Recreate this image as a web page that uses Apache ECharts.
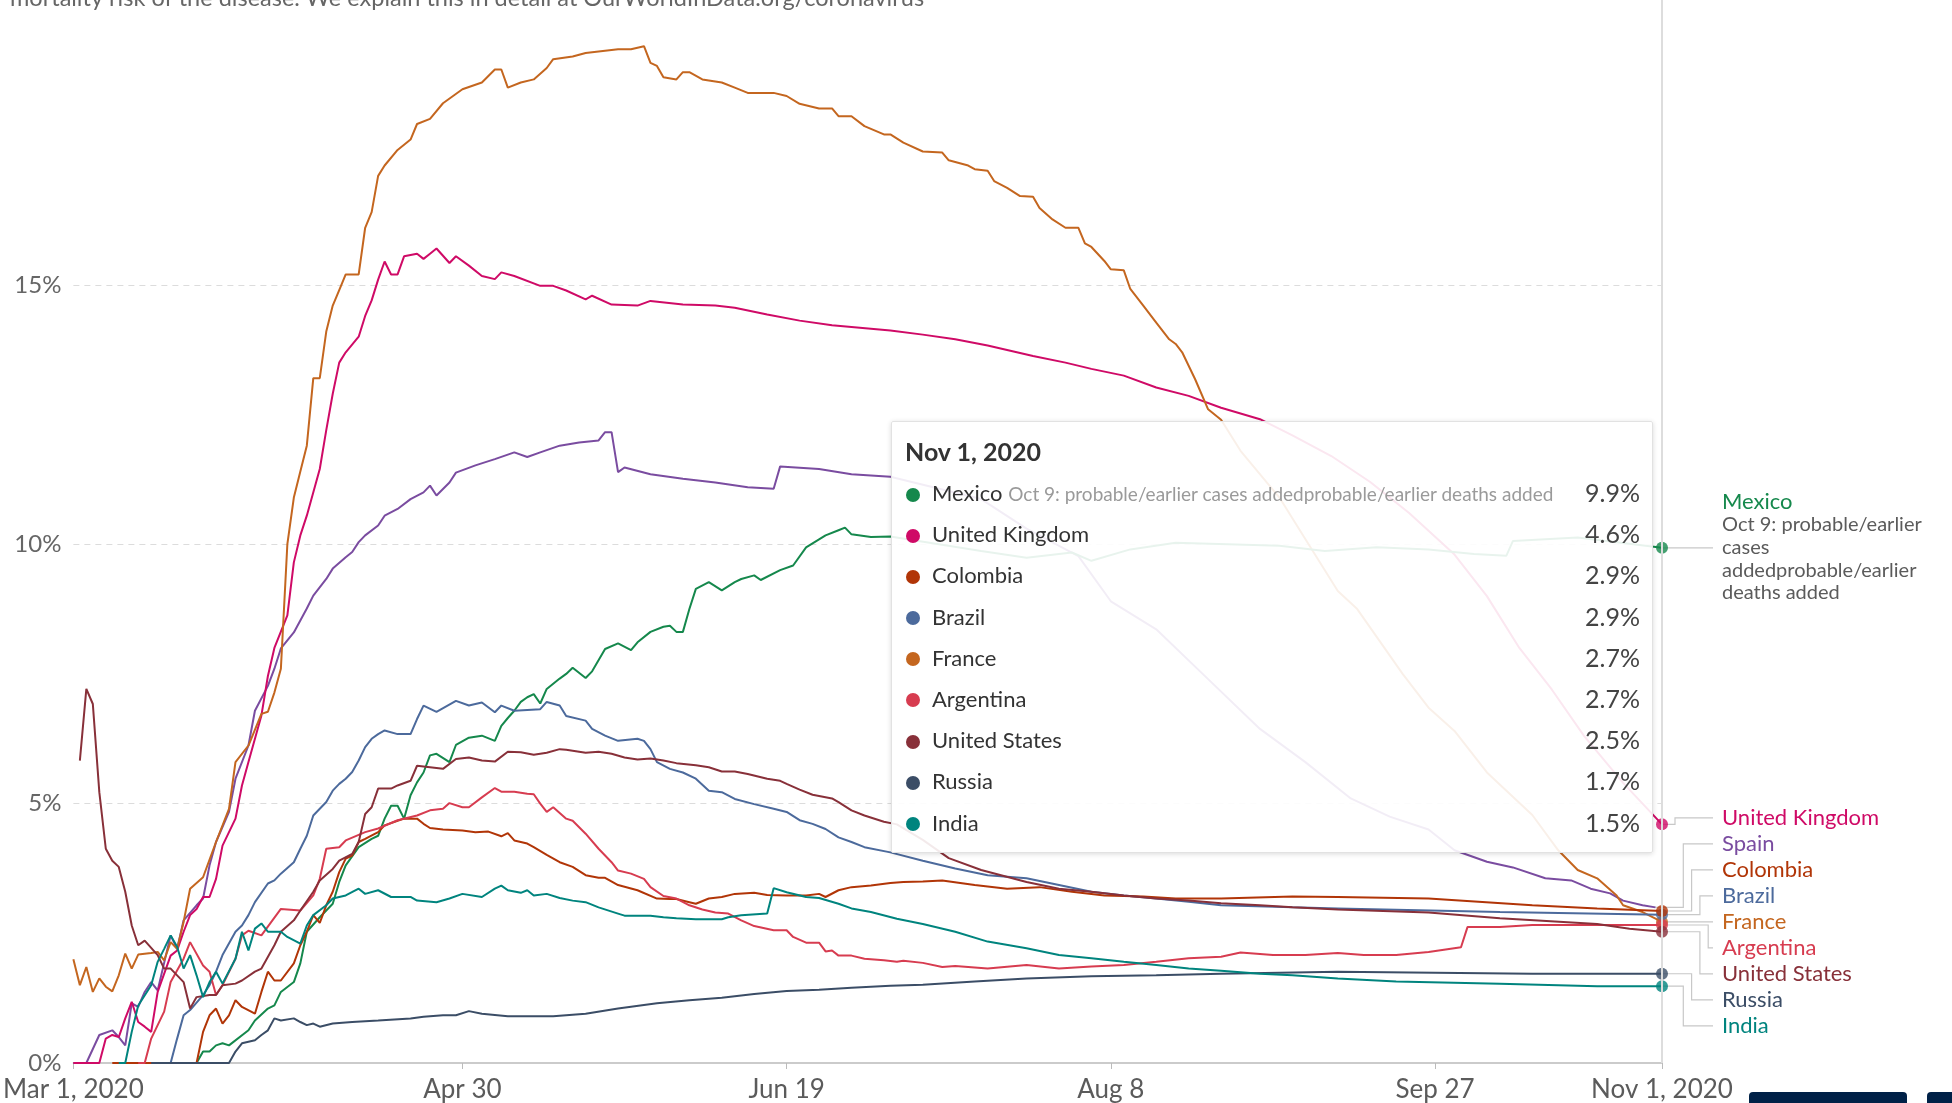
<!DOCTYPE html>
<html>
<head>
<meta charset="utf-8">
<script src="https://cdn.jsdelivr.net/npm/echarts@6/dist/echarts.min.js"></script>
<style>
html, body { margin: 0; padding: 0; background: #fff; }
#main { width: 1952px; height: 1103px; }
</style>
</head>
<body>
<div id="main"></div>
<script>
// x = days since Mar 1, 2020 ; y = case fatality rate (%)
var spain = [[0,0],[2,0],[4,0.54],[6,0.63],[7,0.5],[8,0.34],[9,1.15],[10,1.08],[11,1.37],[12,1.56],[13,1.4],[15,2.46],[16,2.2],[17,2.75],[19,3.04],[20,3.17],[21,3.81],[22,4.26],[24,4.84],[25,5.48],[27,6.12],[28,6.79],[30,7.27],[31,7.6],[32,7.99],[34,8.3],[36,8.76],[37,9.01],[39,9.33],[40,9.53],[42,9.75],[43,9.85],[44,10.04],[45,10.17],[47,10.36],[48,10.55],[50,10.68],[52,10.87],[54,11.0],[55,11.13],[56,10.94],[58,11.19],[59,11.38],[62,11.52],[65,11.64],[68,11.77],[70,11.68],[72,11.77],[75,11.9],[78,11.96],[81,12.0],[82,12.16],[83,12.16],[84,11.39],[85,11.48],[89,11.35],[94,11.26],[99,11.19],[104,11.1],[108,11.07],[109,11.5],[115,11.45],[120,11.35],[126,11.3],[140,10.87],[147,10.3],[155,9.77],[160,8.9],[167,8.36],[175,7.4],[183,6.44],[190,5.8],[197,5.1],[203,4.75],[209,4.5],[213,4.1],[218,3.88],[222,3.77],[227,3.56],[231,3.52],[234,3.36],[237,3.27],[239,3.13],[242,3.04],[244,3.0]];

var uk = [[0,0],[4,0],[5,0.47],[6,0.54],[7,0.5],[8,0.86],[9,1.18],[10,0.79],[11,0.7],[12,0.6],[13,1.37],[15,2.07],[16,2.17],[17,2.53],[18,2.85],[19,2.97],[20,3.2],[21,3.2],[22,3.55],[23,4.19],[25,4.71],[26,5.35],[27,5.8],[28,6.25],[29,6.7],[30,7.46],[31,8.0],[33,8.63],[34,9.65],[35,10.17],[36,10.55],[38,11.45],[39,12.2],[40,12.9],[41,13.5],[42,13.7],[44,14.0],[45,14.4],[46,14.7],[47,15.1],[48,15.45],[49,15.2],[50,15.2],[51,15.55],[53,15.6],[54,15.5],[55,15.6],[56,15.7],[58,15.42],[59,15.55],[61,15.37],[63,15.17],[65,15.11],[66,15.24],[68,15.17],[72,14.98],[74,14.98],[76,14.89],[79,14.72],[80,14.79],[83,14.62],[87,14.6],[89,14.69],[94,14.62],[99,14.6],[102,14.56],[107,14.43],[112,14.31],[117,14.22],[126,14.12],[131,14.04],[136,13.95],[141,13.83],[148,13.63],[153,13.5],[157,13.38],[162,13.25],[167,13.02],[172,12.86],[177,12.63],[183,12.41],[188,12.1],[194,11.7],[200,11.2],[206,10.6],[213,9.8],[218,9.0],[223,8.0],[228,7.2],[233,6.3],[239,5.4],[245,4.6]];

var france = [[0,2.0],[1,1.5],[2,1.85],[3,1.37],[4,1.63],[5,1.47],[6,1.38],[7,1.69],[8,2.11],[9,1.82],[10,2.09],[12,2.12],[13,2.14],[14,1.98],[15,2.33],[16,2.2],[17,2.72],[18,3.36],[20,3.58],[22,4.26],[24,4.9],[25,5.8],[27,6.12],[29,6.73],[30,6.77],[31,7.14],[32,7.6],[33,10.0],[34,10.9],[35,11.4],[36,11.9],[37,13.2],[38,13.2],[39,14.1],[40,14.6],[41,14.9],[42,15.2],[44,15.2],[45,16.1],[46,16.4],[47,17.1],[48,17.3],[50,17.6],[52,17.8],[53,18.1],[55,18.2],[57,18.5],[60,18.77],[63,18.9],[65,19.15],[66,19.15],[67,18.8],[69,18.9],[71,18.96],[73,19.18],[74,19.35],[77,19.4],[79,19.47],[84,19.54],[86,19.54],[88,19.6],[89,19.28],[90,19.22],[91,19.0],[93,18.96],[94,19.1],[95,19.1],[97,18.96],[100,18.9],[102,18.8],[104,18.7],[108,18.7],[110,18.64],[112,18.49],[115,18.4],[117,18.4],[118,18.25],[120,18.25],[122,18.06],[125,17.9],[126,17.9],[128,17.74],[131,17.57],[134,17.55],[135,17.4],[138,17.3],[139,17.23],[141,17.2],[142,17.0],[144,16.87],[146,16.71],[148,16.7],[149,16.48],[151,16.26],[153,16.1],[155,16.1],[156,15.8],[157,15.73],[159,15.46],[160,15.3],[162,15.28],[163,14.92],[165,14.6],[167,14.27],[169,13.95],[170,13.86],[171,13.7],[173,13.18],[175,12.6],[177,12.4],[180,11.8],[186,10.9],[191,9.9],[195,9.1],[198,8.75],[205,7.5],[209,6.85],[213,6.4],[218,5.6],[225,4.78],[229,4.1],[232,3.72],[235,3.56],[238,3.23],[239,3.04],[242,2.91],[245,2.72]];

var mexico = [[10,0],[19,0],[20,0.22],[21,0.22],[22,0.34],[23,0.38],[24,0.34],[27,0.63],[28,0.82],[30,1.05],[31,1.11],[32,1.37],[34,1.56],[35,1.92],[36,2.53],[38,2.81],[40,3.07],[41,3.49],[42,3.81],[44,4.16],[46,4.32],[47,4.38],[48,4.71],[49,4.96],[50,4.96],[51,4.71],[52,5.16],[53,5.41],[54,5.6],[55,5.93],[56,5.96],[58,5.8],[59,6.13],[61,6.27],[63,6.31],[65,6.21],[66,6.5],[67,6.65],[68,6.79],[69,6.96],[70,7.05],[71,7.11],[72,6.93],[73,7.21],[75,7.41],[76,7.5],[77,7.62],[79,7.42],[80,7.55],[82,7.98],[84,8.09],[86,7.96],[87,8.11],[89,8.31],[91,8.41],[92,8.43],[93,8.31],[94,8.31],[95,8.75],[96,9.14],[98,9.27],[100,9.11],[102,9.27],[103,9.33],[105,9.4],[106,9.31],[109,9.5],[111,9.59],[113,9.94],[116,10.17],[118,10.27],[119,10.32],[120,10.19],[123,10.14],[126,10.15],[140,9.87],[147,9.74],[154,9.84],[157,9.68],[163,9.9],[170,10.03],[186,9.97],[193,9.87],[201,9.94],[209,9.9],[216,9.81],[221,9.78],[222,10.06],[232,10.13],[245,9.93]];

var brazil = [[8,0],[15,0],[16,0.47],[17,0.92],[18,1.02],[20,1.31],[21,1.5],[22,1.76],[23,2.08],[25,2.53],[26,2.65],[27,2.85],[28,3.1],[30,3.46],[31,3.52],[32,3.65],[34,3.87],[35,4.13],[36,4.38],[37,4.77],[39,5.03],[40,5.25],[41,5.38],[42,5.48],[43,5.61],[44,5.83],[45,6.09],[46,6.25],[47,6.34],[48,6.41],[50,6.34],[52,6.34],[53,6.63],[54,6.89],[56,6.77],[59,6.98],[61,6.89],[63,6.95],[65,6.76],[66,6.89],[68,6.79],[72,6.82],[73,6.96],[75,6.89],[76,6.69],[79,6.6],[80,6.44],[82,6.31],[84,6.21],[87,6.25],[88,6.21],[89,6.05],[90,5.8],[92,5.67],[94,5.6],[96,5.48],[98,5.25],[100,5.22],[102,5.09],[105,4.99],[108,4.9],[110,4.84],[112,4.68],[114,4.61],[116,4.51],[118,4.35],[120,4.26],[122,4.16],[126,4.06],[131,3.9],[136,3.75],[141,3.62],[147,3.56],[152,3.43],[157,3.3],[162,3.23],[167,3.17],[172,3.11],[177,3.04],[188,3.0],[195,2.98],[220,2.91],[245,2.86]];

var colombia = [[6,0],[19,0],[20,0.6],[21,0.92],[22,1.05],[23,0.76],[24,0.92],[25,1.21],[26,1.08],[28,0.95],[29,1.37],[30,1.76],[31,1.59],[32,1.59],[34,1.92],[35,2.27],[36,2.53],[37,2.85],[38,2.7],[39,3.04],[40,3.3],[41,3.68],[42,3.94],[43,4.0],[44,4.26],[45,4.32],[47,4.45],[48,4.58],[50,4.67],[51,4.71],[53,4.71],[54,4.61],[55,4.53],[57,4.5],[60,4.48],[62,4.45],[64,4.46],[66,4.37],[67,4.43],[68,4.29],[70,4.23],[71,4.16],[73,4.01],[75,3.87],[77,3.78],[79,3.62],[81,3.57],[82,3.57],[84,3.43],[87,3.33],[90,3.17],[92,3.16],[93,3.16],[95,3.1],[96,3.07],[98,3.17],[100,3.2],[102,3.26],[105,3.28],[107,3.24],[110,3.23],[113,3.23],[115,3.26],[116,3.2],[118,3.33],[120,3.39],[123,3.42],[126,3.47],[128,3.49],[131,3.5],[134,3.52],[139,3.43],[144,3.36],[149,3.39],[154,3.3],[159,3.23],[165,3.21],[170,3.17],[177,3.17],[188,3.21],[195,3.2],[209,3.17],[225,3.04],[235,2.98],[245,2.93]];

var argentina = [[10,0],[11,0],[12,0.47],[14,0.99],[15,1.56],[17,2.01],[18,2.33],[20,1.88],[21,1.76],[22,1.31],[23,1.5],[25,2.01],[26,2.46],[27,2.55],[29,2.46],[32,2.97],[35,2.94],[37,3.23],[38,3.55],[39,4.13],[41,4.16],[42,4.29],[45,4.45],[47,4.52],[50,4.68],[53,4.77],[55,4.87],[57,4.9],[58,5.01],[60,4.93],[61,4.93],[63,5.12],[65,5.3],[66,5.23],[68,5.23],[70,5.19],[71,5.18],[72,5.0],[73,4.84],[74,4.93],[76,4.71],[77,4.67],[79,4.42],[81,4.13],[83,3.87],[84,3.71],[86,3.65],[88,3.55],[89,3.39],[91,3.22],[93,3.17],[95,3.04],[97,2.96],[99,2.9],[101,2.88],[103,2.75],[105,2.64],[108,2.56],[110,2.56],[111,2.43],[113,2.32],[115,2.32],[116,2.15],[117,2.17],[118,2.07],[120,2.07],[122,2.01],[125,1.98],[127,1.95],[128,1.97],[131,1.93],[134,1.85],[136,1.87],[141,1.82],[147,1.89],[152,1.82],[157,1.86],[162,1.89],[167,1.95],[172,2.02],[177,2.05],[180,2.13],[185,2.08],[190,2.08],[195,2.12],[199,2.08],[204,2.08],[209,2.14],[214,2.23],[215,2.62],[220,2.62],[225,2.66],[235,2.66],[245,2.66]];

var unitedStates = [[1,5.83],[2,7.21],[3,6.92],[4,5.22],[5,4.13],[6,3.9],[7,3.78],[8,3.3],[9,2.65],[10,2.27],[11,2.36],[13,2.08],[14,1.82],[15,1.82],[16,1.69],[17,1.56],[18,1.05],[19,1.27],[21,1.31],[22,1.31],[23,1.5],[25,1.53],[26,1.59],[28,1.76],[29,1.82],[31,2.27],[32,2.53],[34,2.75],[35,2.94],[37,3.3],[38,3.52],[40,3.74],[41,3.9],[43,4.03],[44,4.26],[45,4.8],[46,4.93],[47,5.29],[49,5.29],[50,5.35],[52,5.44],[53,5.73],[55,5.7],[57,5.67],[59,5.86],[61,5.89],[63,5.83],[65,5.81],[67,6.0],[69,5.99],[71,5.94],[73,5.98],[75,6.05],[76,6.04],[79,5.98],[81,6.0],[83,5.96],[85,5.89],[87,5.85],[89,5.87],[91,5.83],[93,5.78],[96,5.74],[98,5.7],[100,5.62],[102,5.62],[104,5.57],[107,5.48],[109,5.44],[110,5.38],[112,5.27],[114,5.17],[117,5.1],[118,5.03],[120,4.87],[122,4.77],[125,4.65],[127,4.6],[131,4.3],[135,3.95],[140,3.72],[147,3.49],[152,3.36],[157,3.3],[162,3.23],[167,3.17],[172,3.13],[177,3.08],[183,3.04],[188,3.0],[195,2.96],[209,2.9],[220,2.79],[235,2.68],[240,2.59],[245,2.53]];

var russia = [[12,0],[24,0],[25,0.22],[26,0.38],[28,0.44],[29,0.54],[30,0.63],[31,0.86],[32,0.82],[34,0.86],[35,0.79],[36,0.73],[37,0.76],[38,0.7],[40,0.76],[43,0.79],[47,0.82],[52,0.86],[54,0.89],[57,0.92],[59,0.92],[61,1.0],[63,0.95],[67,0.9],[74,0.9],[79,0.95],[84,1.05],[90,1.15],[95,1.21],[100,1.26],[105,1.33],[110,1.39],[115,1.41],[120,1.45],[126,1.49],[131,1.51],[139,1.57],[147,1.63],[157,1.67],[167,1.69],[177,1.72],[195,1.76],[225,1.72],[245,1.72]];

var india = [[7,0],[8,0],[9,0.6],[10,1.11],[12,1.5],[13,1.95],[14,2.2],[15,2.46],[16,2.24],[17,1.82],[18,2.08],[19,1.69],[20,1.27],[21,1.56],[22,1.76],[23,1.53],[25,2.01],[26,2.53],[27,2.17],[28,2.59],[29,2.69],[30,2.53],[32,2.53],[33,2.43],[35,2.3],[36,2.65],[37,2.85],[39,3.04],[40,3.17],[42,3.23],[44,3.36],[45,3.26],[47,3.33],[49,3.2],[52,3.2],[53,3.13],[56,3.1],[58,3.17],[60,3.26],[63,3.2],[65,3.36],[66,3.42],[67,3.33],[69,3.28],[70,3.33],[71,3.23],[73,3.26],[75,3.18],[77,3.13],[79,3.1],[81,3.0],[84,2.88],[85,2.84],[89,2.84],[91,2.81],[93,2.79],[96,2.77],[100,2.77],[101,2.81],[103,2.85],[107,2.88],[108,3.37],[110,3.29],[113,3.2],[115,3.18],[118,3.07],[120,2.98],[123,2.91],[127,2.78],[131,2.68],[136,2.53],[141,2.34],[147,2.21],[152,2.08],[157,2.02],[162,1.95],[167,1.89],[172,1.82],[177,1.78],[183,1.72],[188,1.69],[195,1.63],[204,1.57],[220,1.53],[235,1.48],[245,1.48]];

var xTickDays = [0, 60, 110, 160, 210, 245];
var xTickLabels = ['Mar 1, 2020', 'Apr 30', 'Jun 19', 'Aug 8', 'Sep 27', 'Nov 1, 2020'];
var yTicks = [0, 5, 10, 15];
var hoverDay = 245;
var hoverTitle = 'Nov 1, 2020';
var mexicoNote = 'Oct 9: probable/earlier cases addedprobable/earlier deaths added';
var mexicoNoteLines = ['Oct 9: probable/earlier', 'cases', 'addedprobable/earlier', 'deaths added'];
var subtitle = 'mortality risk of the disease. We explain this in detail at OurWorldInData.org/coronavirus';

var countries = [
    {name: 'Spain',          color: '#7a4ca0', data: spain},
    {name: 'United Kingdom', color: '#cf0a66', data: uk},
    {name: 'France',         color: '#c4661f', data: france},
    {name: 'Mexico',         color: '#15884c', data: mexico, note: mexicoNoteLines},
    {name: 'Brazil',         color: '#4c6a9c', data: brazil},
    {name: 'Colombia',       color: '#b13507', data: colombia},
    {name: 'Argentina',      color: '#d73c50', data: argentina},
    {name: 'United States',  color: '#883039', data: unitedStates},
    {name: 'Russia',         color: '#3b4d66', data: russia},
    {name: 'India',          color: '#00847e', data: india}
];

var FONT = 'Lato, "Noto Sans", sans-serif';
var colorOf = {};
countries.forEach(function (c) { colorOf[c.name] = c.color; });

function lastPoint(c) { return c.data[c.data.length - 1]; }

var series = countries.map(function (c) {
    return {
        name: c.name,
        type: 'line',
        data: c.data,
        showSymbol: false,
        symbol: 'none',
        lineStyle: {color: c.color, width: 2},
        itemStyle: {color: c.color},
        emphasis: {disabled: true},
        z: 2
    };
});

// hover dots: only the countries that have a value on the hovered day
series.push({
    name: 'ends',
    type: 'scatter',
    symbolSize: 12,
    z: 5,
    emphasis: {disabled: true},
    data: countries.filter(function (c) { return lastPoint(c)[0] === hoverDay; }).map(function (c) {
        return {value: lastPoint(c), itemStyle: {color: c.color}};
    })
});

function tooltipHtml(params) {
    var rows = params.filter(function (p) {
        return p.seriesType === 'line' && p.value && p.value[0] === hoverDay;
    }).sort(function (a, b) { return b.value[1] - a.value[1]; });
    var html = '<div style="padding:14px 12px 0 13px;font-family:' + FONT.replace(/"/g, "'") + ';color:#333;">';
    html += '<div style="font-size:25px;font-weight:700;line-height:30px;height:30px;">' + hoverTitle + '</div>';
    html += '<table style="border-collapse:collapse;width:100%;margin-top:6px;">';
    rows.forEach(function (p) {
        var note = p.seriesName === 'Mexico'
            ? ' <span style="font-size:19px;color:#9a9a9a;">' + mexicoNote + '</span>' : '';
        html += '<tr style="height:41.2px;">'
            + '<td style="padding:0;width:27px;"><span style="display:inline-block;width:14px;height:14px;border-radius:7px;margin-left:1px;vertical-align:middle;background:' + colorOf[p.seriesName] + ';"></span></td>'
            + '<td style="padding:0;font-size:22px;white-space:nowrap;">' + p.seriesName + note + '</td>'
            + '<td style="padding:0;font-size:25px;text-align:right;color:#444;">' + p.value[1].toFixed(1) + '%</td></tr>';
    });
    html += '</table></div>';
    return html;
}

var option = {
    animation: false,
    textStyle: {fontFamily: FONT},
    grid: {left: 72, right: 290, top: 41, bottom: 38.5, containLabel: false},
    xAxis: {
        type: 'value',
        min: 0,
        max: 245,
        axisLine: {lineStyle: {color: '#bbb', width: 1.5}},
        axisTick: {show: true, length: 6, lineStyle: {color: '#bbb'}, customValues: xTickDays},
        splitLine: {show: false},
        axisLabel: {
            fontFamily: FONT,
            fontSize: 26,
            color: '#5b5b5b',
            margin: 14,
            customValues: xTickDays,
            formatter: function (v) {
                var i = xTickDays.indexOf(v);
                return i >= 0 ? xTickLabels[i] : '';
            }
        }
    },
    yAxis: {
        type: 'value',
        min: 0,
        max: 19.7,
        interval: 5,
        axisLine: {show: false},
        axisTick: {show: false},
        splitLine: {
            show: true,
            showMinLine: false,
            showMaxLine: false,
            lineStyle: {color: '#dcdcdc', width: 1, type: [6, 5]}
        },
        axisLabel: {
            fontFamily: FONT,
            fontSize: 24,
            color: '#666',
            margin: 12,
            showMaxLabel: false,
            formatter: function (v) {
                return yTicks.indexOf(v) >= 0 ? v + '%' : '';
            }
        }
    },
    tooltip: {
        trigger: 'axis',
        triggerOn: 'none',
        alwaysShowContent: true,
        transitionDuration: 0,
        padding: 0,
        borderWidth: 1,
        borderColor: '#e2e2e2',
        backgroundColor: 'rgba(255,255,255,0.9)',
        extraCssText: 'box-shadow:0 1px 5px rgba(0,0,0,0.15);border-radius:2px;width:762px;height:432px;box-sizing:border-box;',
        axisPointer: {
            type: 'line',
            snap: true,
            triggerEmphasis: false,
            label: {show: false},
            lineStyle: {color: '#dddddd', width: 2, type: 'solid'}
        },
        position: function () { return [891, 421]; },
        formatter: tooltipHtml
    },
    series: series
};

var chart = echarts.init(document.getElementById('main'), null, {renderer: 'canvas'});
chart.setOption(option);

// labels on the right, pushed apart like the original and joined by leader lines
function buildLabels() {
    var items = countries.map(function (c) {
        var p = chart.convertToPixel({gridIndex: 0}, lastPoint(c));
        return {c: c, x: p[0], y: p[1], h: c.note ? 116 : 26};
    }).sort(function (a, b) { return a.y - b.y; });

    var clusters = items.map(function (it) { return [it]; });
    function place(cl) {
        var mean = 0, total = 0;
        cl.forEach(function (it) { mean += it.y; total += it.h; });
        mean /= cl.length;
        var top = mean - total / 2;
        cl.forEach(function (it) { it.ly = top + it.h / 2; top += it.h; });
        return {top: cl[0].ly - cl[0].h / 2, bottom: cl[cl.length - 1].ly + cl[cl.length - 1].h / 2};
    }
    var merged = true;
    while (merged) {
        merged = false;
        for (var i = 0; i < clusters.length - 1; i++) {
            var a = place(clusters[i]), b = place(clusters[i + 1]);
            if (a.bottom > b.top) {
                clusters.splice(i, 2, clusters[i].concat(clusters[i + 1]));
                merged = true;
                break;
            }
        }
    }
    clusters.forEach(place);

    var els = [];
    var endX = chart.convertToPixel({gridIndex: 0}, [hoverDay, 0])[0];
    clusters.forEach(function (cl) {
        var n = cl.length;
        cl.forEach(function (it, i) {
            var k = Math.min(i, n - i);
            var vx = endX + 13 + 8.3 * k;
            var lx = endX + 51;
            els.push({
                type: 'polyline', silent: true, z: 1,
                shape: {points: [[it.x, it.y], [vx, it.y], [vx, it.ly], [lx, it.ly]]},
                style: {stroke: '#c8c8c8', lineWidth: 1.2, fill: null}
            });
            if (it.c.note) {
                els.push({
                    type: 'text', silent: true, z: 10,
                    style: {x: endX + 60, y: it.ly - 45.5, text: it.c.name, fill: it.c.color,
                        font: '22px ' + FONT, textVerticalAlign: 'middle', verticalAlign: 'middle'}
                });
                els.push({
                    type: 'text', silent: true, z: 10,
                    style: {x: endX + 60, y: it.ly - 34.5, text: it.c.note.join('\n'), fill: '#5b5b5b',
                        font: '20px ' + FONT, lineHeight: 22.7, textVerticalAlign: 'top', verticalAlign: 'top'}
                });
            } else {
                els.push({
                    type: 'text', silent: true, z: 10,
                    style: {x: endX + 60, y: it.ly, text: it.c.name, fill: it.c.color,
                        font: '22px ' + FONT, textVerticalAlign: 'middle', verticalAlign: 'middle'}
                });
            }
        });
    });

    // hover line continues above the plot area
    els.push({
        type: 'line', silent: true, z: 0,
        shape: {x1: endX, y1: 0, x2: endX, y2: 41},
        style: {stroke: '#dddddd', lineWidth: 2}
    });
    // cut-off subtitle line at the top and the tab buttons at the bottom right
    els.push({
        type: 'text', silent: true,
        style: {x: 10, y: 10, text: subtitle, fill: '#666666', font: '23.5px ' + FONT,
            textVerticalAlign: 'bottom', verticalAlign: 'bottom'}
    });
    els.push({type: 'rect', silent: true, shape: {x: 1749, y: 1092, width: 158, height: 20, r: [4, 4, 0, 0]}, style: {fill: '#002147'}});
    els.push({type: 'rect', silent: true, shape: {x: 1927, y: 1092, width: 40, height: 20, r: [4, 4, 0, 0]}, style: {fill: '#002147'}});
    return els;
}

chart.setOption({graphic: buildLabels()});

function showHover() {
    var p = chart.convertToPixel({gridIndex: 0}, [hoverDay, 5]);
    chart.dispatchAction({type: 'showTip', x: p[0], y: p[1]});
}
showHover();
setTimeout(showHover, 50);
</script>
</body>
</html>
